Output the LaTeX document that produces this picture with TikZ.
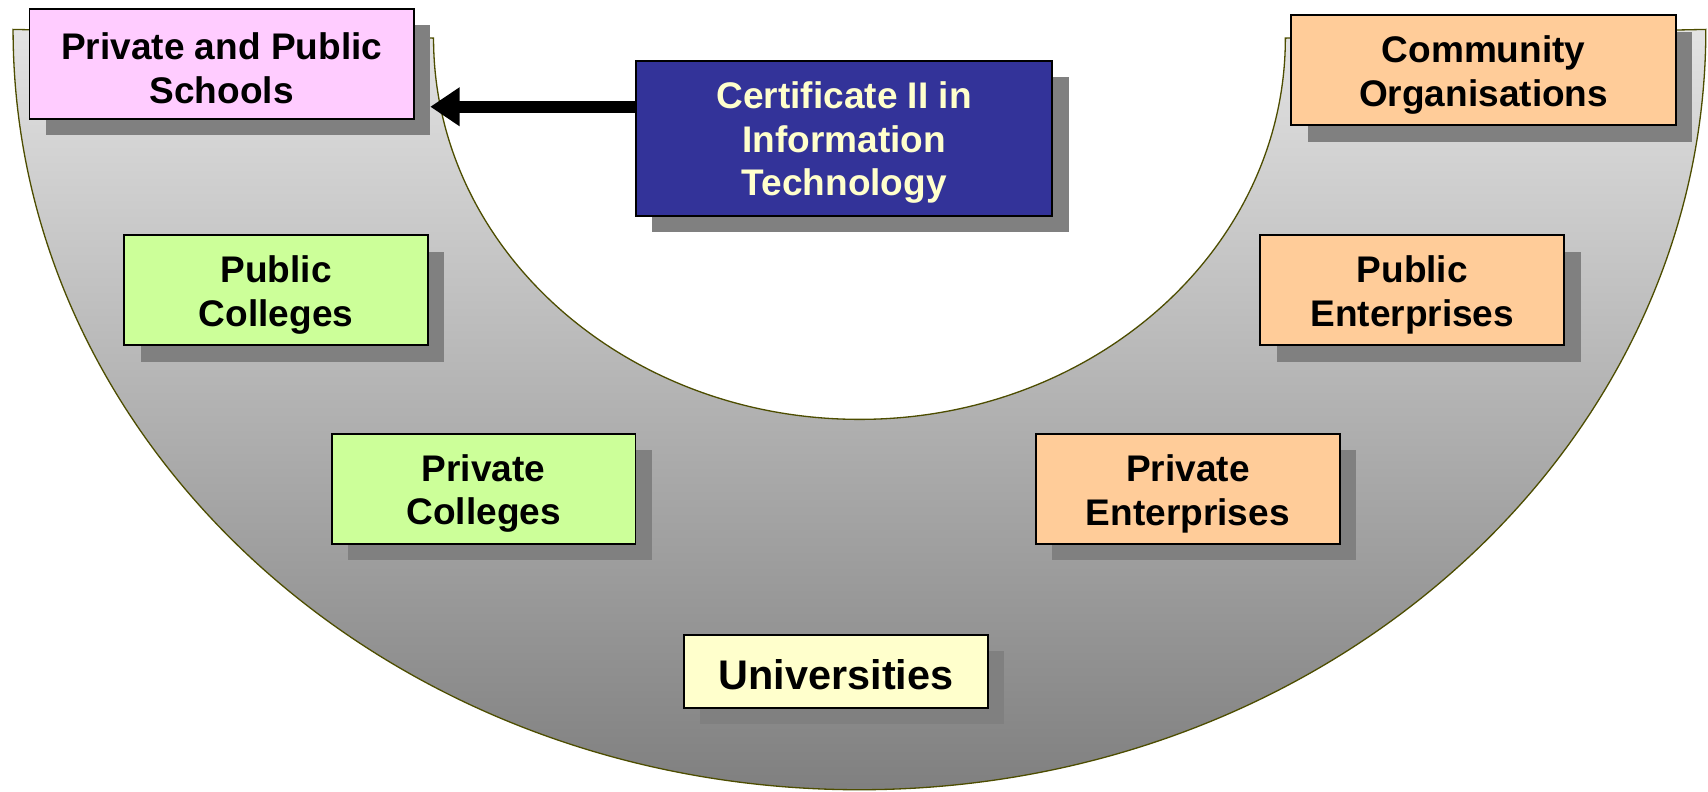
\documentclass[tikz,border=0pt]{standalone}
\usepackage{fontspec}
\setmainfont{Liberation Sans}
\usepackage{tikz}
\usetikzlibrary{arrows.meta,shadows}

\definecolor{rimline}{RGB}{77,77,0}
\definecolor{schoolpink}{RGB}{255,204,255}
\definecolor{certblue}{RGB}{51,51,153}
\definecolor{certtext}{RGB}{255,255,204}
\definecolor{entorange}{RGB}{255,204,153}
\definecolor{colgreen}{RGB}{204,255,153}
\definecolor{unicream}{RGB}{255,255,204}
\definecolor{shadowgray}{RGB}{128,128,128}

% a tall strut on the first line sets the text a little lower in its box
\newcommand{\padtop}{\rule{0pt}{33pt}}

\tikzset{
  sector/.style={draw=black,line width=1.6pt,align=center,
    font=\bfseries\fontsize{34}{40}\selectfont,
    drop shadow={shadow xshift=15pt,shadow yshift=-15pt,fill=shadowgray,opacity=1}},
  widebox/.style={sector,minimum width=353pt,minimum height=101pt},
  smallbox/.style={sector,minimum width=279pt,minimum height=101pt}
}

\begin{document}
\begin{tikzpicture}[x=1pt,y=-1pt]
\useasboundingbox (0,0) rectangle (1568,727);

% the grey bowl
\draw [rimline,line width=1.2pt,top color=gray!22,bottom color=gray]
  (12,27) -- (398,35) arc [start angle=180,end angle=0,x radius=391,y radius=350]
  -- (1566,27) arc [start angle=0,end angle=180,x radius=777,y radius=698] -- cycle;

\node [widebox,fill=schoolpink] (schools) at (203.5,58.5) {\padtop Private and Public\\Schools};
\node [sector,fill=certblue,text=certtext,minimum width=382pt,minimum height=142pt] (cert) at (775,127) {\padtop Certificate II in\\Information\\Technology};
\node [widebox,fill=entorange] (community) at (1362,64.5) {\padtop Community\\Organisations};

\node [smallbox,fill=colgreen] (pubcol) at (253.5,266.5) {\padtop Public\\Colleges};
\node [smallbox,fill=entorange] (pubent) at (1296.5,266.5) {\padtop Public\\Enterprises};
\node [smallbox,fill=colgreen] (privcol) at (444,449) {\padtop Private\\Colleges};
\node [smallbox,fill=entorange] (privent) at (1090.5,449) {\padtop Private\\Enterprises};

\node [sector,fill=unicream,minimum width=279pt,minimum height=67pt,font=\bfseries\fontsize{38}{44}\selectfont] (univ) at (767.5,616.5) {\padtop Universities};

\coordinate (tip) at (395,98);
\draw [->,>={Triangle[length=27pt,width=34pt]},line width=11pt] (cert.west |- tip) -- (tip);

\end{tikzpicture}
\end{document}
